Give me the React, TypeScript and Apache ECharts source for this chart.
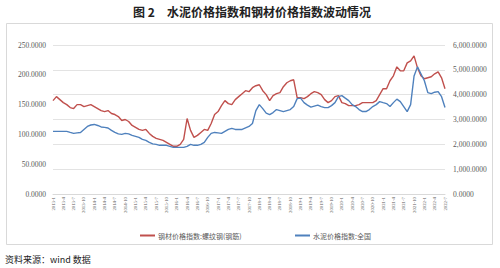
import React, { useEffect, useRef } from "react";
import * as echarts from "echarts";

// Monthly categories 2013-1 .. 2022-7
const categories: string[] = [];
for (let y = 2013; y <= 2022; y++) {
  for (let m = 1; m <= 12; m++) {
    if (y === 2022 && m > 7) break;
    categories.push(`${y}-${m}`);
  }
}

// 钢材价格指数:螺纹钢(钢筋) — right axis
const steelValues = [
  3760, 3920, 3800, 3680, 3600, 3480, 3440, 3600, 3600, 3520, 3560, 3600,
  3520, 3440, 3360, 3320, 3360, 3240, 3200, 3120, 2960, 3000, 2920, 2760,
  2680, 2600, 2560, 2600, 2440, 2320, 2240, 2200, 2160, 2080, 2000, 1920,
  1920, 2000, 2200, 3040, 2560, 2280, 2360, 2480, 2600, 2560, 2840, 3200,
  3320, 3560, 3760, 3640, 3600, 3800, 3920, 4040, 4160, 4120, 4280, 4360,
  4400, 4160, 4000, 3760, 3960, 4040, 4080, 4320, 4480, 4560, 4600, 3880,
  3880, 3840, 3920, 4040, 4120, 4080, 4000, 3800, 3680, 3760, 3920, 3960,
  3680, 3640, 3560, 3560, 3560, 3600, 3680, 3680, 3680, 3680, 3760, 4000,
  4240, 4240, 4560, 4760, 5120, 4960, 4960, 5280, 5360, 5560, 5080, 4760,
  4640, 4680, 4720, 4840, 4920, 4680, 4240,
];

// 水泥价格指数:全国 — left axis
const cementValues = [
  105, 105, 105, 105, 105, 103.3, 101.7, 102.5, 103.3, 108.3, 113.3, 115.8,
  116.7, 115, 112.5, 111.7, 110.8, 106.7, 103.3, 100.8, 100, 101.7, 100.8, 98.3,
  96.7, 95, 91.7, 90, 86.7, 84.2, 83.3, 81.7, 81.7, 81.7, 80, 78.3,
  78.3, 78.3, 78.3, 80, 83.3, 81.7, 81.7, 83.3, 86.7, 95, 101.7, 103.3,
  102.5, 101.7, 105, 108.3, 110, 108.3, 108.3, 108.3, 110.8, 113.3, 118.3, 140,
  150, 143.3, 135.8, 133.3, 136.7, 141.7, 140, 138.3, 140, 141.7, 146.7, 160,
  160.8, 153.3, 149.2, 145.8, 147.5, 149.2, 146.7, 145, 145, 148.3, 153.3, 163.3,
  165, 160.8, 156.7, 150, 146.7, 141.7, 138.3, 138.3, 141.7, 146.7, 150, 155,
  153.3, 151.7, 146.7, 153.3, 159.2, 155, 146.7, 138.3, 150, 198, 213.3, 201.7,
  190, 170, 168.3, 170.8, 171.7, 163.3, 145,
];

const steelName = "钢材价格指数:螺纹钢(钢筋)";
const cementName = "水泥价格指数:全国";
const titleText = "图 2　水泥价格指数和钢材价格指数波动情况";
const sourceText = "资料来源：wind 数据";

const fmt = (v: number) => {
  const s = v.toFixed(4);
  const [i, d] = s.split(".");
  return i.replace(/\B(?=(\d{3})+(?!\d))/g, ",") + "." + d;
};

const FONT = "'Noto Sans CJK SC', 'Noto Sans', sans-serif";
const NUMFONT = "'Liberation Serif', 'DejaVu Serif', serif";

export default function App() {
  const ref = useRef<HTMLDivElement>(null);
  useEffect(() => {
    document.body.style.margin = "0";
    if (!ref.current) return;
    const chart = echarts.init(ref.current, undefined, { renderer: "svg" });
    chart.setOption({
      animation: false,
      backgroundColor: "#fff",
      textStyle: { fontFamily: FONT },
      graphic: [
        {
          type: "rect",
          shape: { x: 6.5, y: 23.5, width: 486, height: 221 },
          style: { fill: "none", stroke: "#d9d9d9", lineWidth: 1 },
          silent: true,
        },
        {
          type: "text",
          x: 252,
          y: 11,
          style: {
            text: titleText,
            font: `bold 12px ${FONT}`,
            fill: "#222",
            textAlign: "center",
            textVerticalAlign: "middle",
          },
        },
        {
          type: "text",
          x: 5,
          y: 259,
          style: {
            text: sourceText,
            font: `9px ${FONT}`,
            fill: "#222",
            textAlign: "left",
            textVerticalAlign: "middle",
          },
        },
      ],
      legend: [
        {
          data: [steelName],
          left: 135,
          top: 227,
          itemWidth: 15,
          itemHeight: 2,
          icon: "rect",
          textStyle: { fontSize: 7, color: "#595959", padding: [0, 0, 0, -2] },
        },
        {
          data: [cementName],
          left: 290,
          top: 227,
          itemWidth: 15,
          itemHeight: 2,
          icon: "rect",
          textStyle: { fontSize: 7, color: "#595959", padding: [0, 0, 0, -2] },
        },
      ],
      grid: { left: 53, right: 55, top: 45, bottom: 74 },
      xAxis: {
        type: "category",
        data: categories,
        boundaryGap: false,
        axisLine: { lineStyle: { color: "#d9d9d9" } },
        axisTick: { show: false },
        axisLabel: {
          interval: 2,
          rotate: 90,
          fontSize: 4.8,
          fontFamily: NUMFONT,
          color: "#595959",
          margin: 3,
        },
        splitLine: { show: false },
      },
      yAxis: [
        {
          type: "value",
          min: 0,
          max: 250,
          interval: 50,
          position: "left",
          axisLine: { show: false },
          axisTick: { show: false },
          splitLine: { show: false },
          axisLabel: { formatter: fmt, fontSize: 7.5, fontFamily: NUMFONT, color: "#595959", margin: 7 },
        },
        {
          type: "value",
          min: 0,
          max: 6000,
          interval: 1000,
          position: "right",
          axisLine: { show: false },
          axisTick: { show: false },
          splitLine: { show: true, lineStyle: { color: "#e3e3e3", width: 1 } },
          axisLabel: { formatter: fmt, fontSize: 7.5, fontFamily: NUMFONT, color: "#595959", margin: 8 },
        },
      ],
      series: [
        {
          name: steelName,
          type: "line",
          yAxisIndex: 1,
          data: steelValues,
          showSymbol: false,
          symbol: "none",
          lineStyle: { color: "#c0504d", width: 1.4 },
          itemStyle: { color: "#c0504d" },
        },
        {
          name: cementName,
          type: "line",
          yAxisIndex: 0,
          data: cementValues,
          showSymbol: false,
          symbol: "none",
          lineStyle: { color: "#4f81bd", width: 1.4 },
          itemStyle: { color: "#4f81bd" },
        },
      ],
    });
    return () => chart.dispose();
  }, []);
  return <div ref={ref} style={{ width: 500, height: 268 }} />;
}
